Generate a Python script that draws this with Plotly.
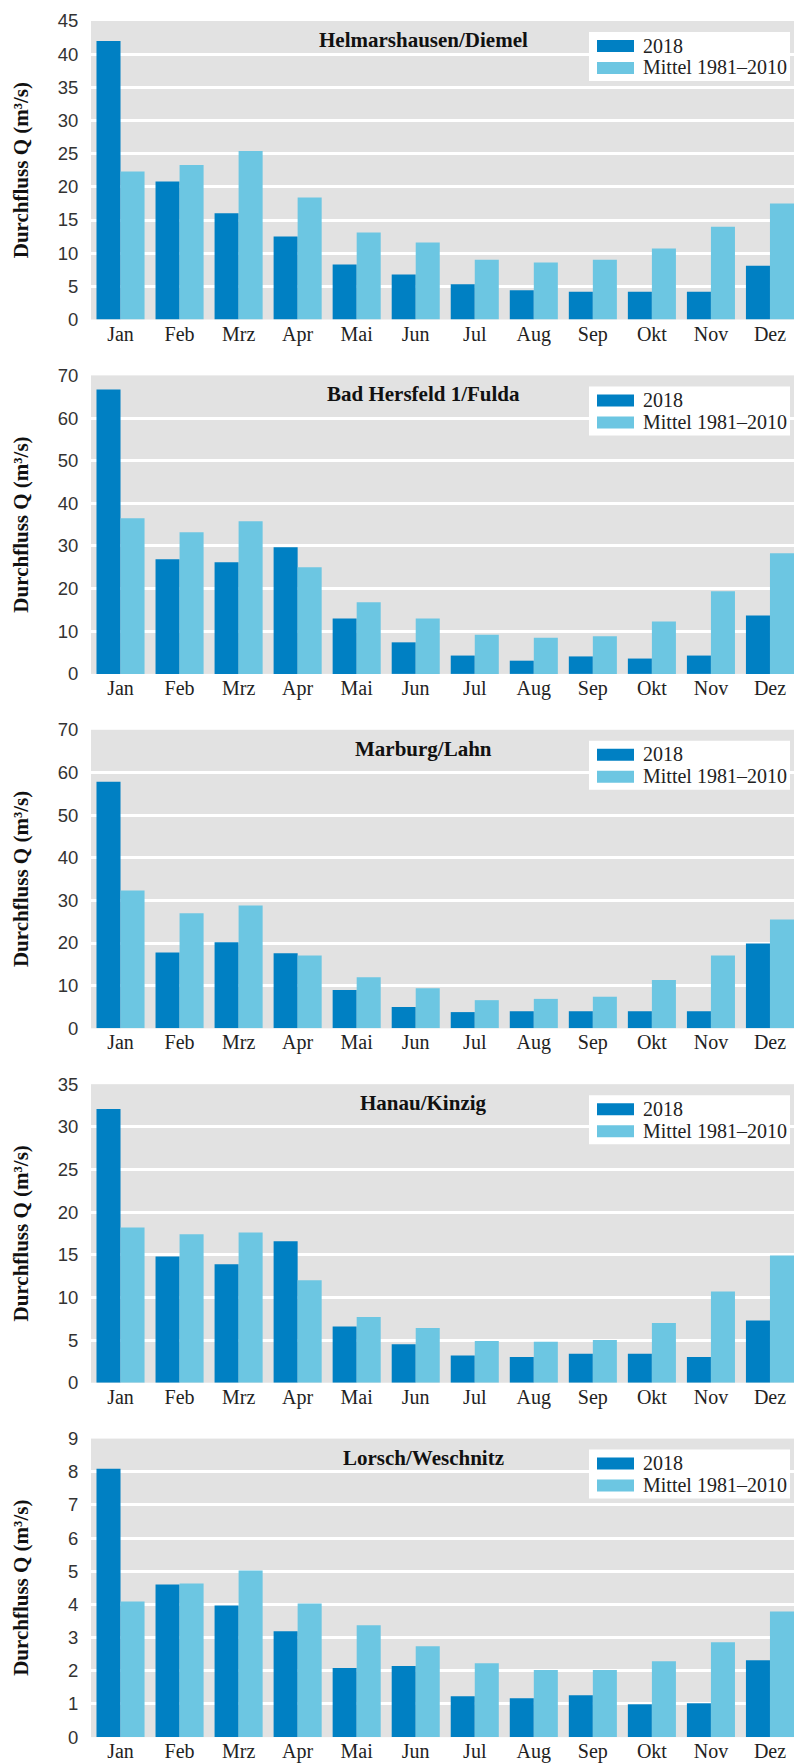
import plotly.graph_objects as go

months = ["Jan", "Feb", "Mrz", "Apr", "Mai", "Jun", "Jul", "Aug", "Sep", "Okt", "Nov", "Dez"]
stations = ["Helmarshausen/Diemel", "Bad Hersfeld 1/Fulda", "Marburg/Lahn", "Hanau/Kinzig", "Lorsch/Weschnitz"]
series_names = ["2018", "Mittel 1981–2010"]

helmarshausen_2018 = [42.0, 20.8, 16.0, 12.5, 8.3, 6.8, 5.3, 4.4, 4.2, 4.2, 4.2, 8.1]
helmarshausen_mittel = [22.3, 23.3, 25.4, 18.4, 13.1, 11.6, 9.0, 8.6, 9.0, 10.7, 14.0, 17.5]
hersfeld_2018 = [66.7, 26.9, 26.2, 29.7, 13.0, 7.4, 4.3, 3.1, 4.1, 3.6, 4.3, 13.7]
hersfeld_mittel = [36.5, 33.2, 35.8, 25.0, 16.8, 13.0, 9.2, 8.5, 8.8, 12.3, 19.4, 28.3]
marburg_2018 = [57.8, 17.8, 20.2, 17.6, 9.0, 5.0, 3.8, 4.0, 4.0, 4.0, 4.0, 19.9]
marburg_mittel = [32.3, 27.0, 28.8, 17.1, 12.0, 9.4, 6.6, 6.9, 7.4, 11.3, 17.1, 25.5]
hanau_2018 = [32.1, 14.8, 13.9, 16.6, 6.6, 4.5, 3.2, 3.0, 3.4, 3.4, 3.0, 7.3]
hanau_mittel = [18.2, 17.4, 17.6, 12.0, 7.7, 6.4, 4.9, 4.8, 5.0, 7.0, 10.7, 14.9]
lorsch_2018 = [8.09, 4.6, 3.97, 3.19, 2.08, 2.14, 1.23, 1.17, 1.26, 0.99, 1.02, 2.32]
lorsch_mittel = [4.09, 4.63, 5.02, 4.03, 3.37, 2.74, 2.23, 2.02, 2.02, 2.29, 2.86, 3.79]

y_max = [45, 70, 70, 35, 9]
y_step = [5, 10, 10, 5, 1]

values_2018 = [helmarshausen_2018, hersfeld_2018, marburg_2018, hanau_2018, lorsch_2018]
values_mittel = [helmarshausen_mittel, hersfeld_mittel, marburg_mittel, hanau_mittel, lorsch_mittel]

# ---- style ----
W, H = 794, 1764
C_2018 = "#0080c3"
C_MITTEL = "#6cc6e2"
BG = "#e2e2e2"
SERIF = "Liberation Serif"
SANS = "Liberation Sans"

PLOT_LEFT = 91
PANEL_H = 298.5
PANEL_STEP = 354.4
FIRST_TOP = 21

fig = go.Figure()
layout_axes = {}
annotations = []
shapes = []


def px_x(x):
    return x / W


def px_y(y):
    return 1 - y / H


for i, station in enumerate(stations):
    s = "" if i == 0 else str(i + 1)
    top = FIRST_TOP + i * PANEL_STEP
    bottom = top + PANEL_H

    for name, vals, col in zip(series_names, [values_2018[i], values_mittel[i]], [C_2018, C_MITTEL]):
        fig.add_trace(go.Bar(
            x=months, y=vals, name=name,
            marker=dict(color=col, line=dict(width=0)),
            xaxis="x" + s, yaxis="y" + s, showlegend=False,
        ))

    layout_axes["xaxis" + s] = dict(
        domain=[px_x(PLOT_LEFT), 1.0], anchor="y" + s, type="category",
        range=[-0.5, 11.407], showgrid=False, zeroline=False, showline=False,
        ticks="", tickfont=dict(family=SERIF, size=20, color="#222"), automargin=False,
    )
    layout_axes["yaxis" + s] = dict(
        domain=[px_y(bottom), px_y(top)], anchor="x" + s,
        range=[0, y_max[i]], dtick=y_step[i], tick0=0,
        showgrid=True, gridcolor="white", gridwidth=2.5, zeroline=False, showline=False,
        ticks="outside", ticklen=8, tickcolor="rgba(0,0,0,0)",
        tickfont=dict(family=SANS, size=18.5, color="#333"), automargin=False,
    )

    # panel title
    annotations.append(dict(
        text="<b>" + station + "</b>", x=px_x(424), y=px_y(top + 19),
        xref="paper", yref="paper", xanchor="center", yanchor="middle",
        showarrow=False, font=dict(family=SERIF, size=21, color="#111"),
    ))
    # y-axis title
    annotations.append(dict(
        text="<b>Durchfluss Q (m³/s)</b>", x=px_x(21), y=px_y(top + PANEL_H / 2),
        xref="paper", yref="paper", xanchor="center", yanchor="middle",
        textangle=-90, showarrow=False, font=dict(family=SERIF, size=21, color="#111"),
    ))

    # legend box
    shapes.append(dict(type="rect", xref="paper", yref="paper",
                       x0=px_x(589), x1=px_x(790), y0=px_y(top + 60), y1=px_y(top + 11),
                       fillcolor="white", line=dict(width=0), layer="above"))
    for k, (name, col) in enumerate(zip(series_names, [C_2018, C_MITTEL])):
        sy0 = top + 19 + k * 22
        shapes.append(dict(type="rect", xref="paper", yref="paper",
                           x0=px_x(597), x1=px_x(634), y0=px_y(sy0 + 12), y1=px_y(sy0),
                           fillcolor=col, line=dict(width=0), layer="above"))
        annotations.append(dict(
            text=name, x=px_x(641), y=px_y(sy0 + 5.5),
            xref="paper", yref="paper", xanchor="left", yanchor="middle",
            showarrow=False, font=dict(family=SERIF, size=20, color="#222"),
        ))

fig.update_layout(
    width=W, height=H, template="none",
    margin=dict(l=0, r=0, t=0, b=0, pad=0),
    paper_bgcolor="white", plot_bgcolor=BG,
    barmode="group", bargap=0.186, bargroupgap=0,
    showlegend=False,
    annotations=annotations, shapes=shapes,
    **layout_axes,
)

fig.write_html(
    "out.html",
    config={"displayModeBar": False},
    post_script="document.body.style.margin='0';document.body.style.overflow='hidden';",
)
